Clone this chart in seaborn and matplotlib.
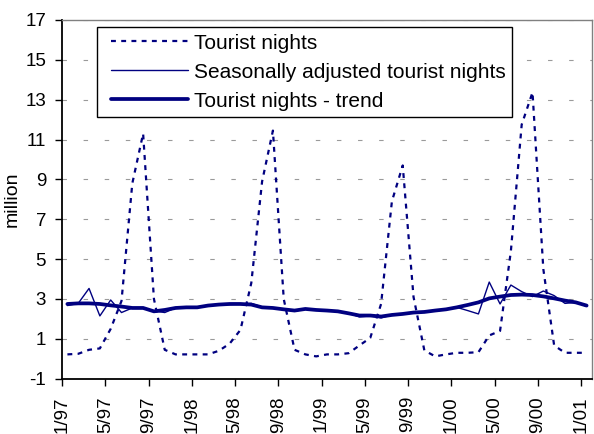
import numpy as np
import pandas as pd
import matplotlib
matplotlib.use("Agg")
import matplotlib.pyplot as plt
import seaborn as sns
from matplotlib.lines import Line2D
from matplotlib.legend_handler import HandlerLine2D
from matplotlib.transforms import ScaledTranslation

# ---- data (million nights, monthly 1/97 .. 1/01) ----
tick_labels = ["1/97", "5/97", "9/97", "1/98", "5/98", "9/98", "1/99",
               "5/99", "9/99", "1/00", "5/00", "9/00", "1/01"]

tourist_nights = [
    0.22, 0.25, 0.45, 0.52, 1.5, 2.9, 8.8, 11.3, 3.0, 0.45, 0.22, 0.22,
    0.22, 0.22, 0.40, 0.76, 1.45, 3.8, 8.9, 11.45, 3.0, 0.45, 0.22, 0.12,
    0.22, 0.22, 0.28, 0.67, 1.05, 2.75, 7.9, 9.7, 3.1, 0.42, 0.12, 0.22,
    0.3, 0.3, 0.33, 1.17, 1.4, 5.4, 11.75, 13.37, 4.5, 0.67, 0.3, 0.3, 0.3]

seasonally_adjusted = [
    2.67, 2.78, 3.53, 2.15, 2.95, 2.32, 2.55, 2.55, 2.40, 2.32, 2.55, 2.60,
    2.60, 2.67, 2.72, 2.72, 2.75, 2.78, 2.60, 2.55, 2.50, 2.38, 2.50, 2.45,
    2.42, 2.38, 2.28, 2.10, 2.15, 2.05, 2.20, 2.25, 2.30, 2.35, 2.42, 2.50,
    2.58, 2.42, 2.25, 3.85, 2.75, 3.70, 3.37, 3.12, 3.40, 3.17, 2.78, 2.83, 2.63]

trend = [
    2.75, 2.78, 2.78, 2.75, 2.68, 2.62, 2.55, 2.55, 2.38, 2.45, 2.55, 2.58,
    2.58, 2.67, 2.72, 2.75, 2.75, 2.72, 2.58, 2.55, 2.48, 2.42, 2.50, 2.45,
    2.42, 2.38, 2.28, 2.17, 2.17, 2.12, 2.20, 2.25, 2.32, 2.35, 2.42, 2.48,
    2.58, 2.70, 2.83, 3.03, 3.12, 3.20, 3.22, 3.20, 3.13, 3.03, 2.92, 2.83, 2.67]

series_labels = ["Tourist nights", "Seasonally adjusted tourist nights",
                 "Tourist nights - trend"]

NAVY = "#000080"

df = pd.DataFrame({
    "month": np.arange(len(tourist_nights)),
    "tn": tourist_nights,
    "sa": seasonally_adjusted,
    "trend": trend,
})

sns.set_theme(style="white")
plt.rcParams["font.family"] = ["Liberation Sans", "DejaVu Sans"]
plt.rcParams["axes.unicode_minus"] = False

fig = plt.figure(figsize=(5.94, 4.34), dpi=100)
ax = fig.add_axes([62 / 594, 1 - 378.7 / 434, 530 / 594, 358.7 / 434])

sns.lineplot(data=df, x="month", y="tn", ax=ax, color=NAVY, lw=1.6,
             linestyle=(0, (2.2, 2.4)))
sns.lineplot(data=df, x="month", y="sa", ax=ax, color=NAVY, lw=1.0)
sns.lineplot(data=df, x="month", y="trend", ax=ax, color=NAVY, lw=2.7)

ax.set_xlim(-0.5, len(tourist_nights) - 0.5)
ax.set_ylim(-1, 17)
ax.set_yticks(np.arange(-1, 18, 2))
ax.set_xticks(np.arange(-0.5, len(tourist_nights) - 0.5, 4))
ax.set_xticklabels(tick_labels, rotation=90)
for lbl in ax.get_xticklabels():
    lbl.set_transform(lbl.get_transform() +
                      ScaledTranslation(2 / 72, 0, fig.dpi_scale_trans))

ax.grid(axis="y", color="#9a9a9a", linestyle=(0, (4, 15)), lw=0.8)
ax.set_axisbelow(True)

for s in ["left", "bottom"]:
    ax.spines[s].set_color("black")
    ax.spines[s].set_linewidth(1.3)
for s in ["top", "right"]:
    ax.spines[s].set_color("#808080")
    ax.spines[s].set_linewidth(1.0)

ax.tick_params(axis="both", direction="out", length=5, width=1,
               color="black", labelsize=13.5, labelcolor="black")
ax.tick_params(axis="y", pad=6.5)
ax.tick_params(axis="x", pad=7.5)
ax.tick_params(left=True, bottom=True)

ax.set_xlabel("")
ax.set_ylabel("million", fontsize=14, color="black", labelpad=3)

leg = ax.legend(handles=ax.lines[:3], labels=series_labels,
                loc="upper left",
                bbox_to_anchor=((96.7 - 62) / 530, (378.7 - 27.3) / 358.7),
                borderaxespad=0, fontsize=15, frameon=True, fancybox=False,
                edgecolor="black", framealpha=1, borderpad=0.3,
                handlelength=4.1, handletextpad=0.25, labelspacing=0.48,
                handler_map={Line2D: HandlerLine2D(xpad=0.4)})
leg.get_frame().set_linewidth(1.0)
for t in leg.get_texts():
    t.set_color("black")

fig.savefig("out.png", dpi=100)
